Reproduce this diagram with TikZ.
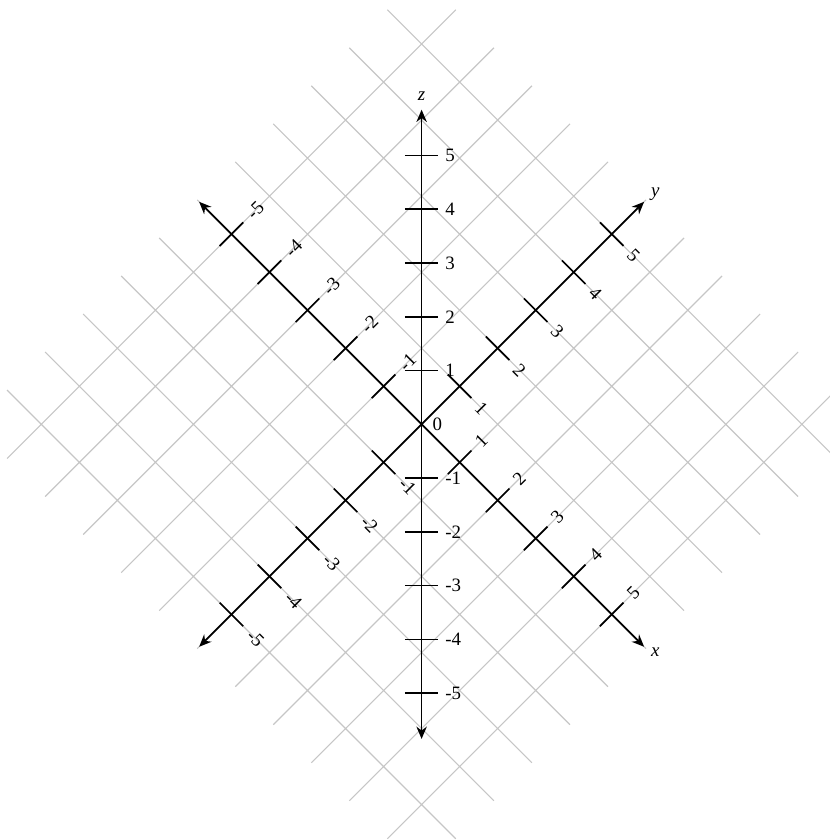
\documentclass[tikz,border=0pt]{standalone}
\usepackage{fontspec}
\setmainfont{Liberation Serif}
\usetikzlibrary{arrows.meta}

\begin{document}
\begin{tikzpicture}[>={Stealth[length=6.5pt,width=5.5pt]}, line width=0.9pt,
    gridline/.style={gray!45, line width=0.6pt},
    axis/.style={<->, black},
    ticklab/.style={inner sep=4.5pt}]
    \useasboundingbox (-7.84,-7.73) rectangle (7.59,7.89);

    % Plane of x and y, turned by 45 degrees
    \begin{scope}[rotate=-45]
        \draw[gridline] (-5.9,-5.9) grid (5.9,5.9);

        % Axes x and y
        \coordinate (xneg) at (-5.85,0);
        \coordinate (xpos) at (5.85,0);
        \coordinate (yneg) at (0,-5.85);
        \coordinate (ypos) at (0,5.85);
        \draw[axis] (xneg) -- (xpos);
        \draw[axis] (yneg) -- (ypos);

        % Ticks and numbers on x and y
        \foreach \i in {-5,-4,-3,-2,-1,1,2,3,4,5} {
            \draw (\i,-0.31) -- (\i,0.31)
                node[ticklab, rotate=45, anchor=west, name=xt\i] {\i};
            \draw (-0.31,\i) -- (0.31,\i)
                node[ticklab, rotate=-45, anchor=west, name=yt\i] {\i};
        }
    \end{scope}

    % Axis z
    \coordinate (zneg) at (0,-5.85);
    \coordinate (zpos) at (0,5.85);
    \draw[axis] (zneg) -- (zpos);
    \foreach \k in {-5,-4,-3,-2,-1,1,2,3,4,5}
        \draw (-0.31,\k) -- (0.31,\k) node[anchor=west, name=zt\k] {\k};
    \node (orig) [anchor=west, inner sep=2pt] at (0.12,0) {0};

    % Names of the axes
    \node (zlab) [above=1pt] at (zpos) {\textit{z}};
    \node (ylab) [right, yshift=4pt] at (ypos) {\textit{y}};
    \node (xlab) [right, yshift=-3pt] at (xpos) {\textit{x}};
\end{tikzpicture}
\end{document}
